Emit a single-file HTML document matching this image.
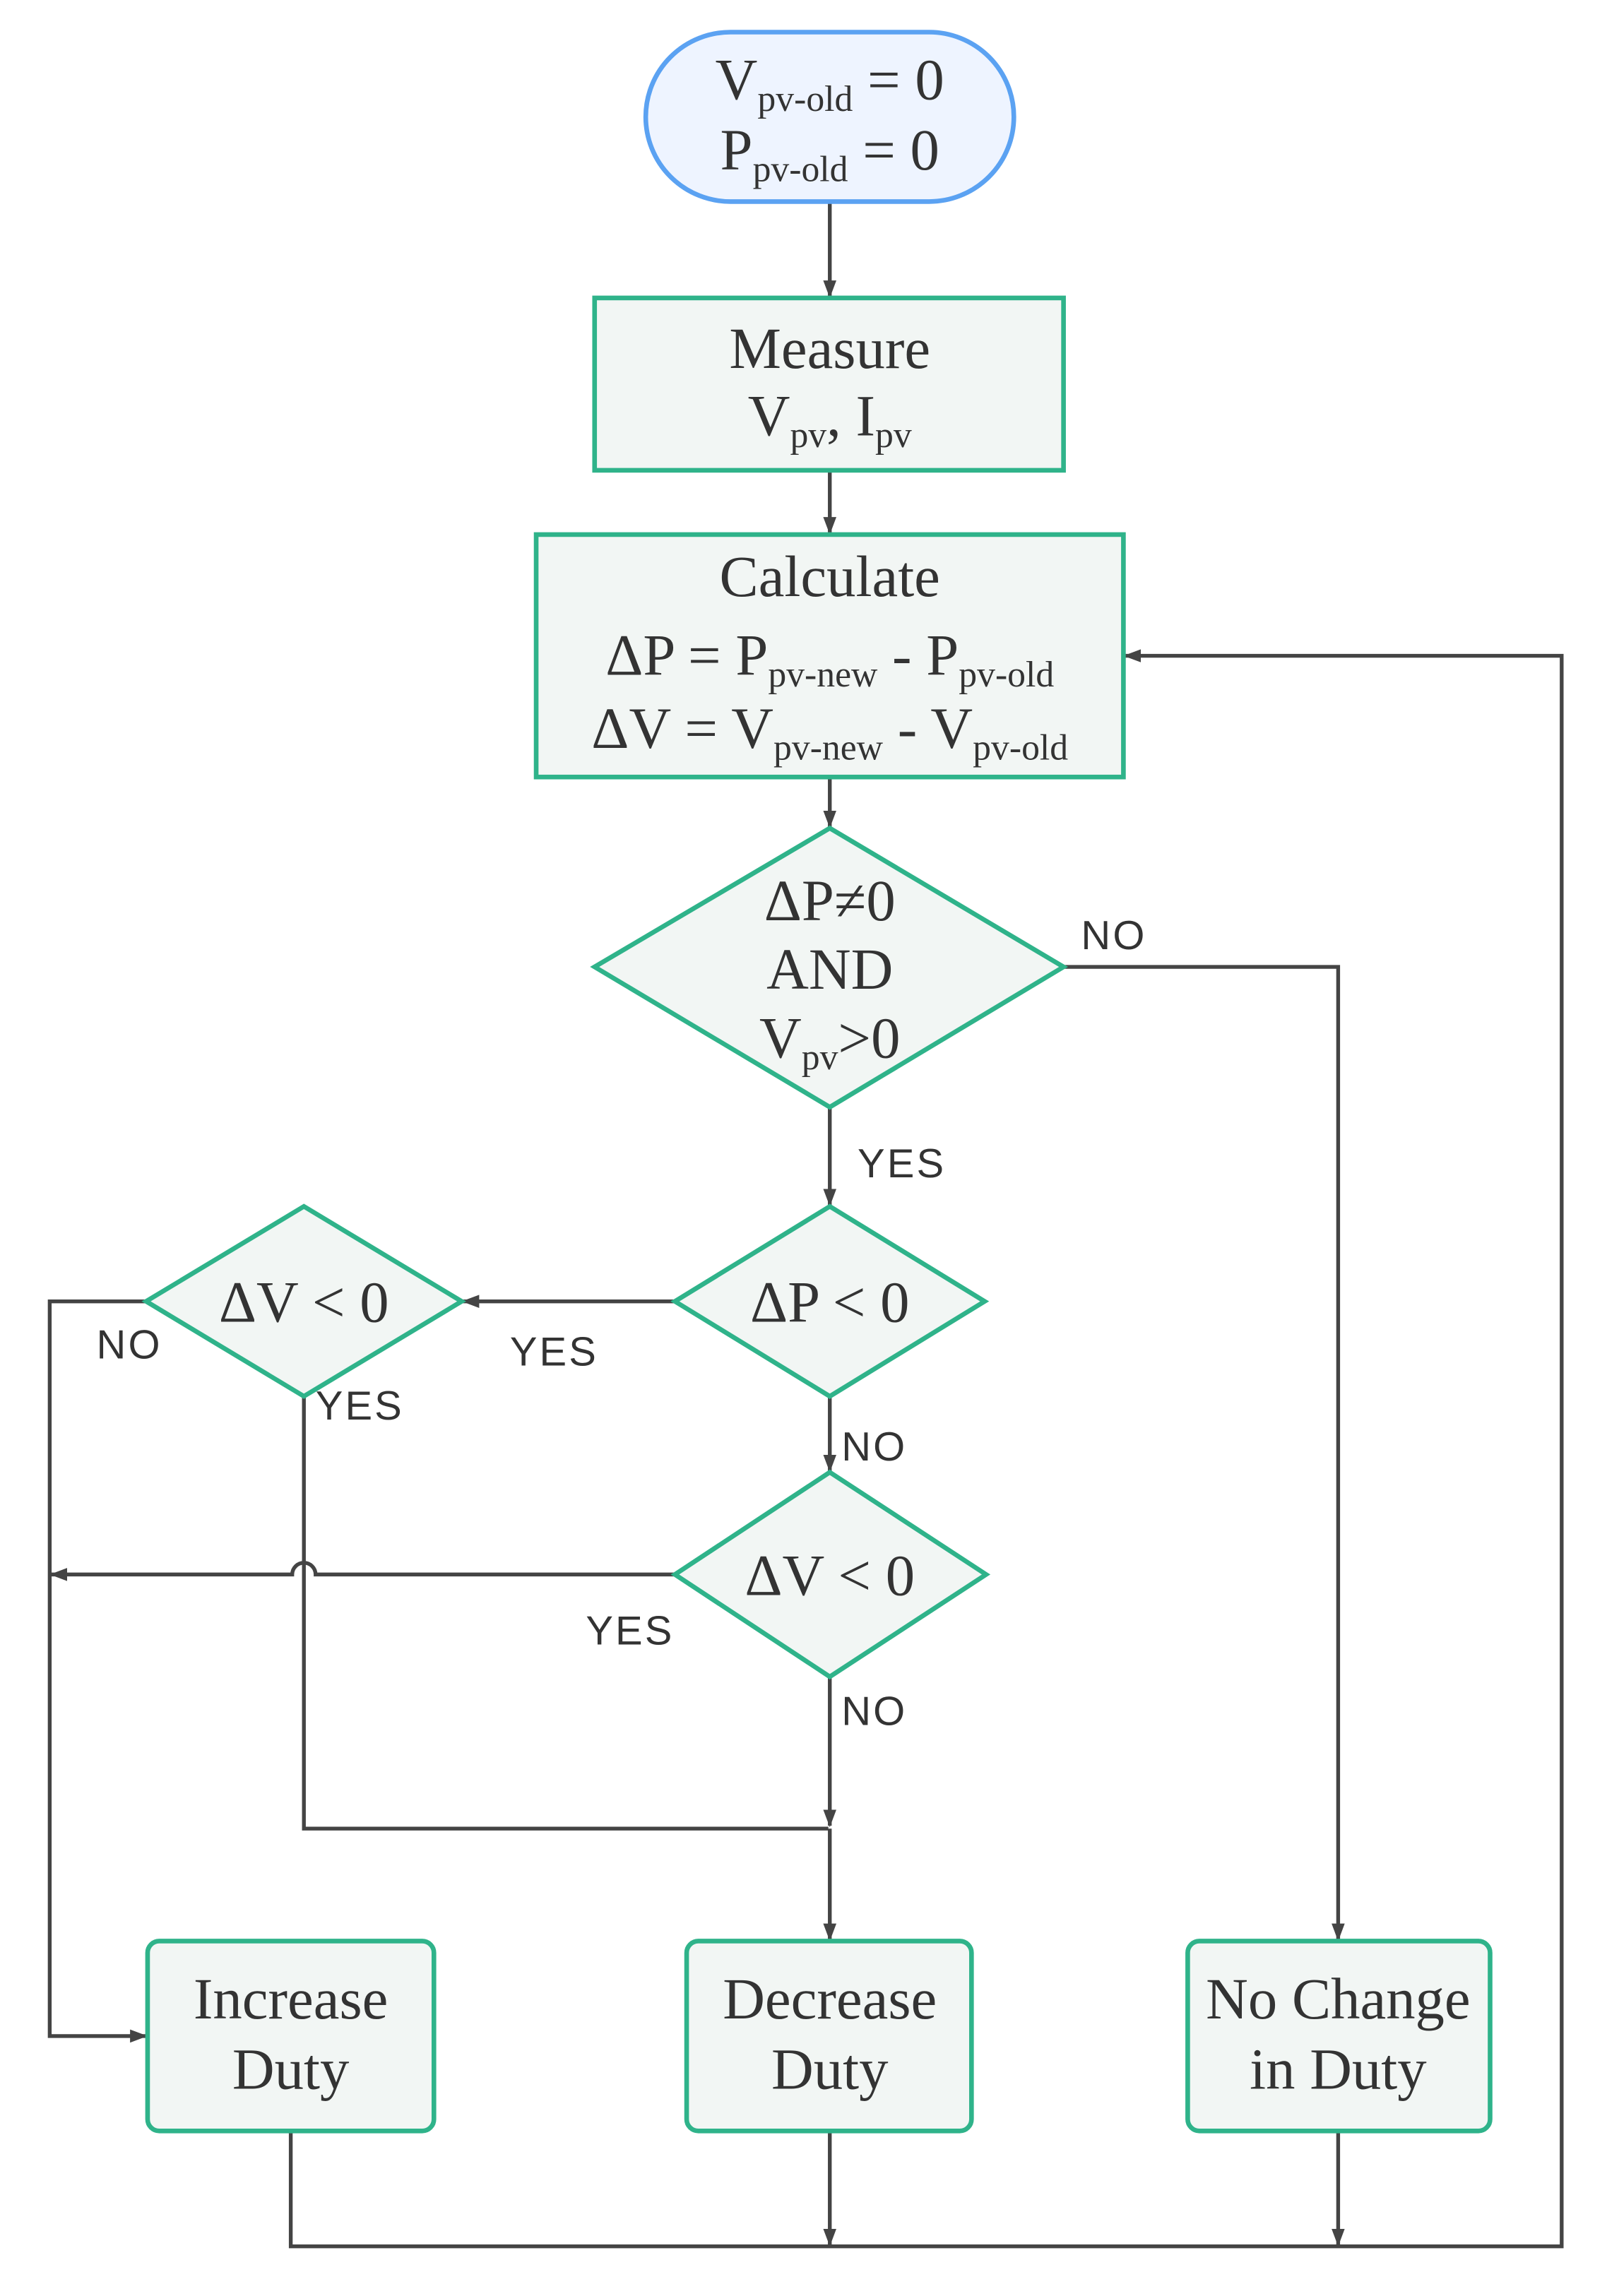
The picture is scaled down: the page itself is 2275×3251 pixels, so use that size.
<!DOCTYPE html>
<html><head><meta charset="utf-8"><style>
html,body{margin:0;padding:0;background:#fff;}
svg{display:block;}
.s{font-family:"Liberation Serif",serif;fill:#333;}
.l{font-family:"Liberation Sans",sans-serif;fill:#333;font-size:28px;letter-spacing:1.5px;}
.ln{stroke:#444;stroke-width:2.6;fill:none;}
.bx{fill:#f2f6f4;stroke:#2fb38a;stroke-width:3.2;}
</style></head><body>
<svg width="2275" height="3251" viewBox="0 0 1100 1572" xmlns="http://www.w3.org/2000/svg">
<defs><marker id="a" markerWidth="12" markerHeight="12" refX="11" refY="6" orient="auto" markerUnits="userSpaceOnUse"><path d="M0,1.5 L12,6 L0,10.5 Z" fill="#444"/></marker></defs>
<path class="ln" d="M568,138 V203" marker-end="url(#a)"/>
<path class="ln" d="M568,322 V365" marker-end="url(#a)"/>
<path class="ln" d="M568,532 V566" marker-end="url(#a)"/>
<path class="ln" d="M568,758 V825" marker-end="url(#a)"/>
<path class="ln" d="M568,956 V1007" marker-end="url(#a)"/>
<path class="ln" d="M568,1148 V1250" marker-end="url(#a)"/>
<path class="ln" d="M568,1252 V1328" marker-end="url(#a)"/>
<path class="ln" d="M728,662 H916 V1328" marker-end="url(#a)"/>
<path class="ln" d="M462,891 H317" marker-end="url(#a)"/>
<path class="ln" d="M100,891 H34 V1394 H100" marker-end="url(#a)"/>
<path class="ln" d="M208,956 V1252 H567"/>
<path class="ln" d="M462,1078 H216 A8,8 0 0 0 200,1078 H35" marker-end="url(#a)"/>
<path class="ln" d="M199,1459 V1538 H1069 V449 H770" marker-end="url(#a)"/>
<path class="ln" d="M568,1459 V1537" marker-end="url(#a)"/>
<path class="ln" d="M916,1459 V1537" marker-end="url(#a)"/>
<rect x="442" y="22" width="252" height="116" rx="58" fill="#eef4ff" stroke="#5ba2f2" stroke-width="3.2"/>
<rect class="bx" x="407" y="204" width="321" height="118"/>
<rect class="bx" x="367" y="366" width="402" height="166"/>
<polygon class="bx" points="568,567 728,662 568,758 407,662"/>
<polygon class="bx" points="568,826 674,891 568,956 462,891"/>
<polygon class="bx" points="208,826 316,891 208,956 100,891"/>
<polygon class="bx" points="568,1008 675,1078 568,1148 462,1078"/>
<rect class="bx" x="101" y="1329" width="196" height="130" rx="8"/>
<rect class="bx" x="470" y="1329" width="195" height="130" rx="8"/>
<rect class="bx" x="813" y="1329" width="207" height="130" rx="8"/>
<text class="s" font-size="40" x="568" y="68" text-anchor="middle">V<tspan font-size="25" dy="8">pv-old</tspan><tspan dy="-8"> = 0</tspan></text>
<text class="s" font-size="40" x="568" y="116" text-anchor="middle">P<tspan font-size="25" dy="8">pv-old</tspan><tspan dy="-8"> = 0</tspan></text>
<text class="s" font-size="40" x="568" y="252" text-anchor="middle">Measure</text>
<text class="s" font-size="40" x="568" y="298" text-anchor="middle">V<tspan font-size="25" dy="8">pv</tspan><tspan dy="-8">, I</tspan><tspan font-size="25" dy="8">pv</tspan></text>
<text class="s" font-size="40" x="568" y="408" text-anchor="middle">Calculate</text>
<text class="s" font-size="40" x="568" y="462" text-anchor="middle">ΔP = P<tspan font-size="25" dy="8">pv-new</tspan><tspan dy="-8"> - P</tspan><tspan font-size="25" dy="8">pv-old</tspan></text>
<text class="s" font-size="40" x="568" y="512" text-anchor="middle">ΔV = V<tspan font-size="25" dy="8">pv-new</tspan><tspan dy="-8"> - V</tspan><tspan font-size="25" dy="8">pv-old</tspan></text>
<text class="s" font-size="40" x="568" y="630" text-anchor="middle">ΔP≠0</text>
<text class="s" font-size="40" x="568" y="677" text-anchor="middle">AND</text>
<text class="s" font-size="40" x="568" y="724" text-anchor="middle">V<tspan font-size="25" dy="8">pv</tspan><tspan dy="-8">&gt;0</tspan></text>
<text class="s" font-size="40" x="568" y="905" text-anchor="middle">ΔP &lt; 0</text>
<text class="s" font-size="40" x="208" y="905" text-anchor="middle">ΔV &lt; 0</text>
<text class="s" font-size="40" x="568" y="1092" text-anchor="middle">ΔV &lt; 0</text>
<text class="s" font-size="40" x="199" y="1382" text-anchor="middle">Increase</text>
<text class="s" font-size="40" x="199" y="1430" text-anchor="middle">Duty</text>
<text class="s" font-size="40" x="568" y="1382" text-anchor="middle">Decrease</text>
<text class="s" font-size="40" x="568" y="1430" text-anchor="middle">Duty</text>
<text class="s" font-size="40" x="916" y="1382" text-anchor="middle">No Change</text>
<text class="s" font-size="40" x="916" y="1430" text-anchor="middle">in Duty</text>
<text class="l" x="740" y="650">NO</text>
<text class="l" x="587" y="806">YES</text>
<text class="l" x="349" y="935">YES</text>
<text class="l" x="66" y="930">NO</text>
<text class="l" x="216" y="972">YES</text>
<text class="l" x="576" y="1000">NO</text>
<text class="l" x="401" y="1126">YES</text>
<text class="l" x="576" y="1181">NO</text>
</svg>
</body></html>
